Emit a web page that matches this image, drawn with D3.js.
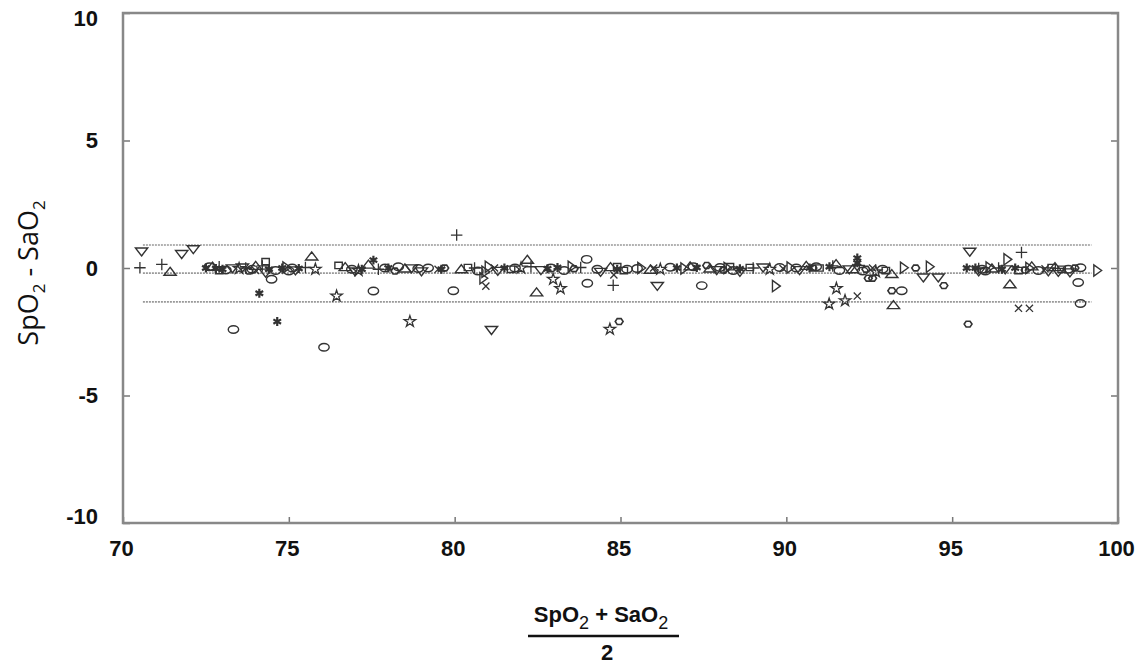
<!DOCTYPE html>
<html>
<head>
<meta charset="utf-8">
<script src="https://cdn.jsdelivr.net/npm/d3@7"></script>
<style>
  body { margin: 0; background: #fff; }
  .axis text { font-family: "Liberation Sans", Arial, sans-serif; font-weight: bold; font-size: 22px; fill: #111; }
  .axis line { stroke: #777; stroke-width: 1.5; }
  .axis path { display: none; }
</style>
</head>
<body>
<svg class="chart"></svg>
<script>
// Bland-Altman: difference vs mean, one array per marker type
var circles = [[73.33,-2.41],[76.06,-3.11],[74.48,-0.44],[77.55,-0.9],[79.96,-0.89],[84.0,-0.6],[87.45,-0.69],
	[83.98,0.34],[93.48,-0.89],[98.8,-0.57],[98.87,-1.39],[81.82,0.0],[86.5,0.03],[98.87,0.01],
	[72.6,0.05],[73.9,-0.05],[74.6,-0.1],[75.1,0.0],[76.9,-0.05],[77.9,0.0],[78.3,0.05],[79.2,0.0],
	[82.9,0.0],[85.2,-0.05],[87.2,0.05],[88.4,-0.1],[90.3,0.0],[91.6,-0.1],[92.9,-0.05],[95.9,-0.05],[97.6,-0.1],
	[73.1,-0.08],[75.0,-0.12],[78.9,-0.02],[80.7,-0.12],[83.3,-0.1],[84.3,-0.05],[85.5,-0.02],[88.0,0.02],
	[89.8,0.02],[90.9,0.05],[92.3,-0.12],[96.0,-0.12],[98.5,-0.05]];
var trianglesUp = [[71.42,-0.18],[75.69,0.42],[82.47,-0.99],[82.19,0.29],[93.23,-1.49],[96.74,-0.67],[93.18,-0.27],
	[72.7,0.02],[74.0,0.05],[76.7,0.0],[77.4,0.1],[80.2,-0.08],[84.7,0.0],[87.1,0.03],[90.6,0.05],[91.5,0.12],[96.2,-0.05],[98.1,0.0],
	[78.5,-0.05],[85.9,-0.1],[87.7,-0.05],[92.0,-0.08],[97.4,0.03]];
var trianglesDown = [[70.56,0.68],[71.77,0.58],[72.12,0.77],[81.11,-2.4],[86.11,-0.67],[89.3,0.05],[95.53,0.67],
	[94.13,-0.34],[94.58,-0.34],[98.55,-0.14],[73.3,0.02],[74.3,-0.15],[77.0,-0.1],[78.7,0.02],[82.6,-0.05],
	[87.9,-0.05],[91.9,-0.02],[96.6,-0.02],[97.9,-0.1],[73.6,0.05],[75.2,-0.06],[79.0,-0.1],[81.3,-0.08],
	[84.4,-0.12],[88.6,-0.12],[90.4,-0.05],[95.8,-0.1],[98.2,-0.12]];
var trianglesRight = [[80.84,-0.4],[89.66,-0.71],[93.52,0.01],[96.64,0.34],[99.35,-0.1],[81.0,0.05],[85.6,0.0],
	[88.2,0.0],[90.1,0.02],[94.3,0.05],[97.3,0.0],[83.5,0.05],[74.9,0.02],[80.9,-0.15],[86.9,-0.02],[96.1,0.02]];
var pluses = [[70.51,0.01],[71.17,0.14],[80.06,1.29],[84.78,-0.68],[97.09,0.61],[72.9,0.05],[73.7,0.0],[75.5,0.02],
	[80.6,0.0],[83.8,0.02],[89.0,0.0],[92.2,0.1],[95.8,-0.02],[74.2,0.08],[77.7,-0.05],[82.3,0.05],[91.4,0.08],[96.4,0.0]];
var crosses = [[80.94,-0.71],[92.14,-1.1],[97.0,-1.58],[97.33,-1.58],[84.8,-0.27],[79.5,-0.05],[86.0,0.0],[92.6,0.0],
	[74.0,-0.1],[81.2,0.0],[89.9,-0.02],[97.8,-0.03]];
var stars = [[76.44,-1.1],[78.65,-2.1],[83.19,-0.8],[82.97,-0.44],[84.68,-2.4],[91.51,-0.8],[91.29,-1.41],[91.77,-1.28],
	[73.5,-0.02],[77.1,-0.1],[82.0,0.0],[89.5,-0.05],[75.8,-0.05],[86.2,-0.05],[92.7,-0.15]];
var asterisks = [[74.11,-0.99],[74.65,-2.1],[77.55,0.31],[92.14,0.39],[92.14,0.2],[72.5,0.0],[73.0,-0.05],[74.8,0.0],
	[75.3,-0.02],[78.0,0.0],[81.5,0.0],[83.1,0.02],[86.7,0.0],[88.6,-0.03],[91.3,0.05],[95.44,0.0],[95.7,0.0],[96.9,0.0],
	[72.8,-0.02],[74.4,-0.05],[77.2,-0.05],[79.6,-0.05],[82.8,-0.03],[84.9,-0.05],[87.3,0.02],[90.7,0.0],[96.5,-0.05]];
var squares = [[74.3,0.25],[76.5,0.1],[80.4,0.02],[84.9,0.05],[88.9,0.02],[91.0,0.0],[97.0,-0.1],[98.3,-0.05],
	[72.9,-0.1],[81.7,-0.05],[85.1,-0.1],[88.3,0.05],[93.0,-0.1],[98.0,0.02]];
var hexagons = [[84.96,-2.1],[92.47,-0.4],[92.6,-0.4],[93.18,-0.89],[94.75,-0.69],[95.48,-2.2],[79.7,0.0],
	[87.6,0.1],[90.8,0.0],[93.9,0.0],[98.7,0.0],[73.8,-0.12],[78.2,-0.12],[83.6,-0.03],[88.1,-0.08],[92.4,-0.05],[97.2,-0.08]];

// upper limit, mean bias, lower limit
var limitValues = [0.9, -0.2, -1.33];
var limitRange = [70.6, 99.2];

var xTicks = [70,75,80,85,90,95,100];
var yTicks = [-10,-5,0,5,10];

var margin = {top: 13, right: 21, bottom: 146, left: 123};
var W = 1139, H = 669;
var width = W - margin.left - margin.right,
	height = H - margin.top - margin.bottom;

var svg = d3.select('.chart').attr('width', W).attr('height', H);
var chart = svg.append('g').attr('transform','translate(' + margin.left + ',' + margin.top + ')');

var x = d3.scaleLinear().domain([70,100]).range([0,width]);
var y = d3.scaleLinear().domain([-10,10]).range([height,0]);

// plain hyphen for negatives, as in the original
var fmt = function(d){ return String(d); };

// axes, ticks pointing inward
chart.append('g')
	.attr('class','x axis')
	.attr('transform','translate(0,' + height + ')')
	.call(d3.axisBottom(x).tickValues(xTicks).tickSize(-6).tickPadding(17).tickFormat(fmt))
	.selectAll('text').attr('dx', -2);

var yAxis = chart.append('g')
	.attr('class','y axis')
	.call(d3.axisLeft(y).tickValues(yTicks).tickSize(-7).tickPadding(25).tickFormat(fmt));
yAxis.selectAll('text').attr('dy', function(d){
	if(d === 10) return '0.55em';
	if(d === -10) return '0.02em';
	return '0.32em';
});

chart.append('g')
	.attr('class','y axis')
	.attr('transform','translate(' + width + ',0)')
	.call(d3.axisRight(y).tickValues(yTicks).tickSize(-7).tickFormat(''));

// frame
chart.append('rect')
	.attr('width', width).attr('height', height)
	.attr('fill','none').attr('stroke','#888').attr('stroke-width',2.5);

// limit lines
chart.selectAll('.limit')
	.data(limitValues)
	.enter().append('line')
	.attr('class','limit')
	.attr('x1', x(limitRange[0])).attr('x2', x(limitRange[1]))
	.attr('y1', function(d){ return y(d); }).attr('y2', function(d){ return y(d); })
	.attr('stroke','#999').attr('stroke-width',1.6).attr('stroke-dasharray','2,1');

var hexagon = {
	draw: function(ctx, size){
		var r = Math.sqrt(size / 2.6);
		for(var i = 0; i < 6; i++){
			var a = Math.PI / 3 * i;
			if(i === 0) ctx.moveTo(r*Math.cos(a), r*Math.sin(a));
			else ctx.lineTo(r*Math.cos(a), r*Math.sin(a));
		}
		ctx.closePath();
	}
};

var series = [
	{data: circles, type: d3.symbolCircle, size: 85, tf: 'scale(1,0.72)', fill: 'none', sw: 1.4},
	{data: trianglesUp, type: d3.symbolTriangle, size: 65, tf: 'scale(1,0.75)', fill: 'none', sw: 1.4},
	{data: trianglesDown, type: d3.symbolTriangle, size: 65, tf: 'scale(1,-0.75)', fill: 'none', sw: 1.4},
	{data: trianglesRight, type: d3.symbolTriangle, size: 55, tf: 'rotate(90) scale(1,0.8)', fill: 'none', sw: 1.4},
	{data: pluses, type: d3.symbolPlus, size: 45, tf: '', fill: 'none', sw: 1.3},
	{data: crosses, type: d3.symbolTimes, size: 35, tf: '', fill: 'none', sw: 1.3},
	{data: stars, type: d3.symbolStar, size: 40, tf: '', fill: 'none', sw: 1.3},
	{data: asterisks, type: d3.symbolAsterisk, size: 55, tf: '', fill: '#222', sw: 2.2},
	{data: squares, type: d3.symbolSquare, size: 55, tf: 'scale(1,0.85)', fill: 'none', sw: 1.4},
	{data: hexagons, type: hexagon, size: 40, tf: 'scale(1,0.85)', fill: 'none', sw: 1.6}
];

series.forEach(function(s){
	chart.append('g').selectAll('path')
		.data(s.data)
		.enter().append('path')
		.attr('d', d3.symbol().type(s.type).size(s.size))
		.attr('transform', function(d){ return 'translate(' + x(d[0]) + ',' + y(d[1]) + ') ' + s.tf; })
		.attr('fill', s.fill)
		.attr('stroke', '#333')
		.attr('stroke-width', s.sw)
		.attr('vector-effect', 'non-scaling-stroke');
});

// y title
svg.append('text')
	.attr('transform','translate(38,273) rotate(-90)')
	.attr('text-anchor','middle')
	.style('font-family','"Open Sans", sans-serif')
	.style('font-size','27px')
	.attr('fill','#111')
	.call(function(t){
		t.append('tspan').text('SpO');
		t.append('tspan').attr('dy', 7).style('font-size','17px').text('2');
		t.append('tspan').attr('dy', -7).text(' - SaO');
		t.append('tspan').attr('dy', 7).style('font-size','17px').text('2');
	});

// x title as a fraction
var xt = svg.append('g').style('font-family','"Liberation Sans", Arial, sans-serif').attr('fill','#111');
xt.append('text')
	.attr('x', 601).attr('y', 622)
	.attr('text-anchor','middle')
	.style('font-size','22px').style('font-weight','bold')
	.call(function(t){
		t.append('tspan').text('SpO');
		t.append('tspan').attr('dy', 7).style('font-size','18px').style('font-weight','normal').text('2');
		t.append('tspan').attr('dy', -7).text(' + SaO');
		t.append('tspan').attr('dy', 7).style('font-size','18px').style('font-weight','normal').text('2');
	});
xt.append('line')
	.attr('x1', 528).attr('x2', 679).attr('y1', 636).attr('y2', 636)
	.attr('stroke','#111').attr('stroke-width',2.5);
xt.append('text')
	.attr('x', 607).attr('y', 660)
	.attr('text-anchor','middle')
	.style('font-size','22px').style('font-weight','bold')
	.text('2');
</script>
</body>
</html>
